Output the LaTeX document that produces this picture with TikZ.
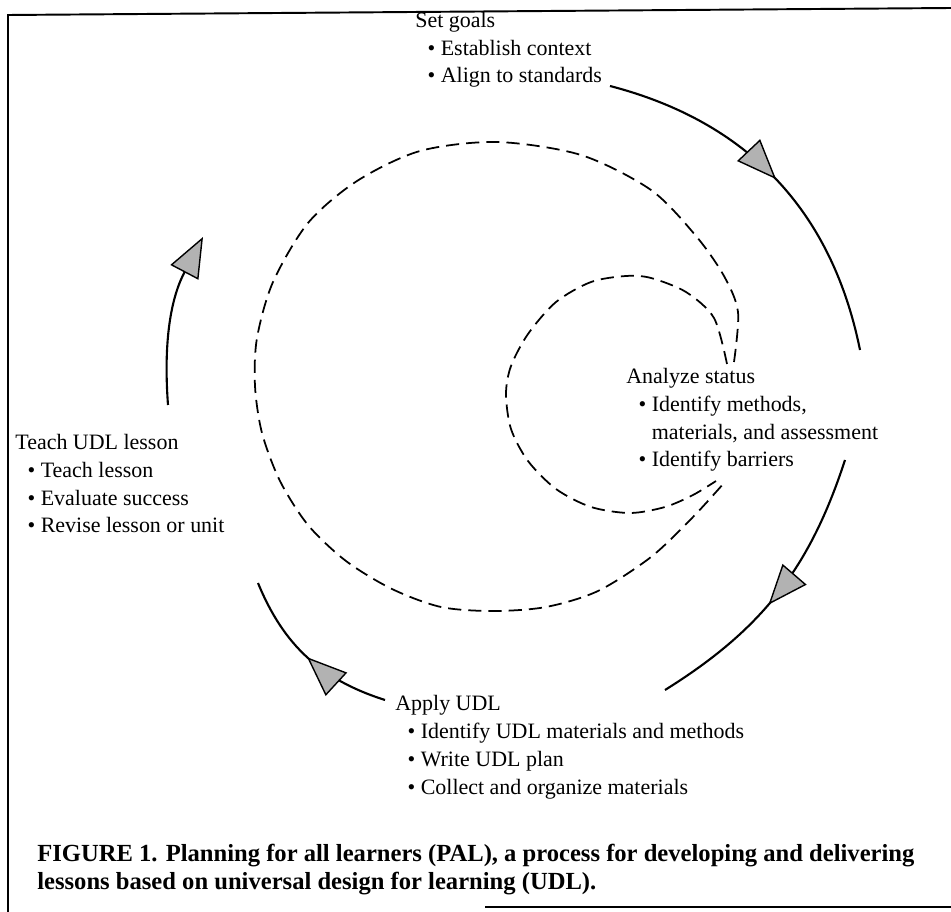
\documentclass[tikz,border=0pt]{standalone}
\usepackage{fontspec}
\setmainfont{Liberation Serif}
\usetikzlibrary{arrows.meta, decorations.markings, positioning}

\tikzset{
  stagetext/.style={anchor=base west, align=left, inner sep=0pt, font=\fontsize{12.5}{15.9}\selectfont},
  captext/.style={anchor=base west, align=left, inner sep=0pt, font=\fontsize{14}{15.4}\selectfont\bfseries},
  cycleline/.style={line width=1.2pt},
  spiral/.style={line width=1pt, dash pattern=on 7.5pt off 4pt},
  bigtip/.tip={Triangle[length=0.8cm,width=0.63cm,fill=gray!60,line width=0.8pt]},
  midtip/.style={postaction={decorate}, decoration={markings, mark=at position #1 with {\arrow{bigtip}}}},
}
\newcommand{\bul}{\hspace*{7pt}\textbullet\ }

\begin{document}
\begin{tikzpicture}[x=0.02cm, y=-0.02cm]
        \useasboundingbox (0,0) rectangle (951,912);

        % Frame
        \draw[line width=1.1pt] (8,912) -- (8,15) -- (951,8);
        \draw[line width=1.1pt] (485,907) -- (951,907);

        % Stages (placed by the baseline of their last line)
        \node[stagetext] (goals) at (415,83) {Set goals\\ \bul Establish context\\ \bul Align to standards};
        \node[stagetext] (status) at (626,467) {Analyze status\\ \bul Identify methods,\\ \hspace*{7pt}\phantom{\textbullet\ }materials, and assessment\\ \bul Identify barriers};
        \node[stagetext] (apply) at (395,794) {Apply UDL\\ \bul Identify UDL materials and methods\\ \bul Write UDL plan\\ \bul Collect and organize materials};
        \node[stagetext] (teach) at (15,533) {Teach UDL lesson\\ \bul Teach lesson\\ \bul Evaluate success\\ \bul Revise lesson or unit};

        % Arc ends
        \coordinate (g1) at (610,86);
        \coordinate (g2) at (860,350);
        \coordinate (s1) at (845,460);
        \coordinate (s2) at (665,690);
        \coordinate (a1) at (385,700);
        \coordinate (a2) at (258,583);
        \coordinate (t1) at (168,405);
        \coordinate (t2) at (203,237);

        % Cycle
        \draw[cycleline, midtip=0.5] (g1) to[bend left=32] (g2);
        \draw[cycleline, midtip=0.55] (s1) to[bend left=20] (s2);
        \draw[cycleline, midtip=0.5] (a1) to[bend left=25] (a2);
        \draw[cycleline, -bigtip] (t1) to[bend left=16] (t2);

        % Spiral
        \draw[spiral] plot[smooth] coordinates {(734,362) (738,312) (724,276) (696,236) (651,190) (581,155) (497,142) (420,151) (357,181) (308,223) (273,282) (257,338) (255,386) (262,433) (280,481) (308,525) (346,561) (392,589) (441,607) (493,611) (546,607) (598,591) (651,557) (693,517) (724,483)};
        \draw[spiral] plot[smooth] coordinates {(727,364) (714,318) (686,292) (651,278) (626,276) (591,282) (556,302) (528,334) (511,366) (506,394) (511,429) (528,461) (556,489) (591,507) (630,513) (665,507) (693,495) (716,481)};

        % Caption
        \node[captext] (cap) at (37,889) {FIGURE 1. Planning for all learners (PAL), a process for developing and delivering\\ lessons based on universal design for learning (UDL).};
    \end{tikzpicture}
\end{document}
